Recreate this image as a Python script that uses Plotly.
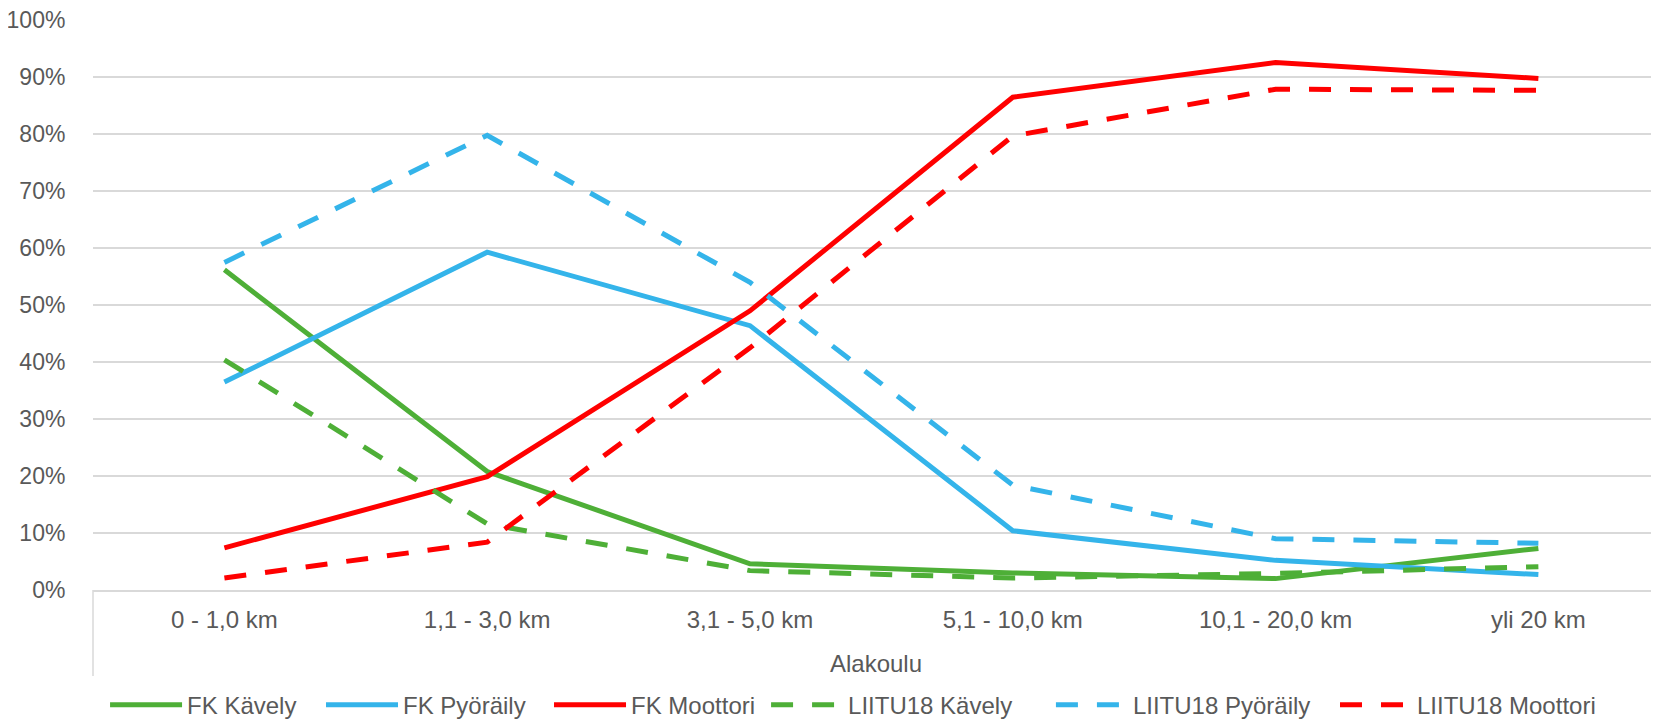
import plotly.graph_objects as go

categories = ["0 - 1,0 km", "1,1 - 3,0 km", "3,1 - 5,0 km", "5,1 - 10,0 km", "10,1 - 20,0 km", "yli 20 km"]

fk_kavely = [56.2, 20.8, 4.6, 3.0, 2.0, 7.3]
fk_pyoraily = [36.5, 59.3, 46.4, 10.4, 5.2, 2.7]
fk_moottori = [7.4, 19.9, 49.0, 86.5, 92.6, 89.8]
liitu_kavely = [40.4, 11.6, 3.4, 2.1, 2.9, 4.1]
liitu_pyoraily = [57.5, 79.8, 54.0, 18.4, 9.0, 8.2]
liitu_moottori = [2.1, 8.4, 42.5, 79.7, 87.9, 87.7]

y_ticks = [0, 10, 20, 30, 40, 50, 60, 70, 80, 90, 100]

GREEN = "#4EAF37"
BLUE = "#34B4EA"
RED = "#FF0000"
FONT = "Liberation Sans, Arial, sans-serif"
TXT = "#595959"
GRID = "#D9D9D9"

series = [
    ("FK Kävely", fk_kavely, GREEN, "solid"),
    ("FK Pyöräily", fk_pyoraily, BLUE, "solid"),
    ("FK Moottori", fk_moottori, RED, "solid"),
    ("LIITU18 Kävely", liitu_kavely, GREEN, "22px,19px"),
    ("LIITU18 Pyöräily", liitu_pyoraily, BLUE, "22px,19px"),
    ("LIITU18 Moottori", liitu_moottori, RED, "22px,19px"),
]

# legend entry positions (paper fraction of plot width)
legend_x = [0.0077, 0.1456, 0.2912, 0.4298, 0.6117, 0.7931]

fig = go.Figure()
layout_legends = {}
for i, (name, vals, color, dash) in enumerate(series):
    key = "legend" if i == 0 else f"legend{i + 1}"
    fig.add_trace(go.Scatter(
        x=list(range(len(categories))),
        y=[v / 100 for v in vals],
        mode="lines",
        name=name,
        legend=key,
        line=dict(color=color, width=5, dash=dash),
    ))
    layout_legends[key] = dict(
        orientation="h",
        x=legend_x[i],
        xanchor="left",
        y=-0.2018,
        yanchor="middle",
        itemwidth=72,
        bgcolor="rgba(0,0,0,0)",
        font=dict(family=FONT, size=24, color=TXT),
    )

fig.update_layout(
    width=1651,
    height=716,
    margin=dict(l=85, r=0, t=12, b=134, autoexpand=False),
    paper_bgcolor="white",
    plot_bgcolor="white",
    font=dict(family=FONT, size=24, color=TXT),
    showlegend=True,
    xaxis=dict(
        range=[-0.5, 5.459],
        tickmode="array",
        tickvals=list(range(len(categories))),
        ticktext=categories,
        showgrid=False,
        zeroline=False,
        showline=True,
        linecolor=GRID,
        linewidth=1.5,
        ticks="outside",
        ticklen=7,
        tickcolor="rgba(0,0,0,0)",
        automargin=False,
        ticklabeloverflow="allow",
        title=dict(text="Alakoulu", standoff=24, font=dict(size=24, color=TXT)),
    ),
    yaxis=dict(
        range=[0, 1.0005],
        tickmode="array",
        tickvals=[t / 100 for t in y_ticks],
        ticktext=[f"{t}%" for t in y_ticks],
        tickfont=dict(size=23),
        showgrid=True,
        gridcolor=GRID,
        gridwidth=1.5,
        zeroline=False,
        showline=False,
        ticks="outside",
        ticklen=22,
        tickcolor="rgba(0,0,0,0)",
        automargin=False,
        ticklabeloverflow="allow",
    ),
    shapes=[dict(type="line", xref="paper", yref="paper", x0=0, x1=0, y0=0, y1=-0.151,
                 line=dict(color=GRID, width=1.5))],
    **layout_legends,
)

fig.write_html("out.html")
